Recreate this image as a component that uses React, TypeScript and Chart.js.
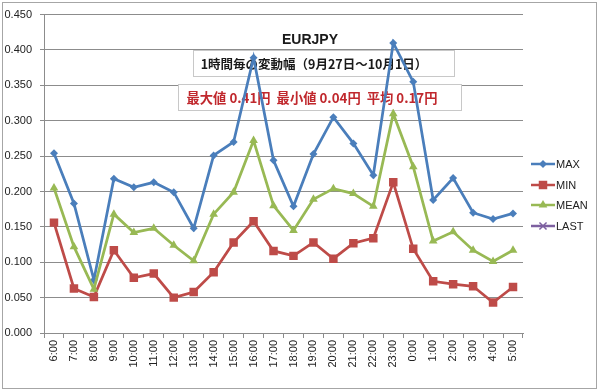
import React, { useEffect, useRef } from "react";
import { Chart, registerables } from "chart.js";

Chart.register(...registerables);

const categories = ["6:00","7:00","8:00","9:00","10:00","11:00","12:00","13:00","14:00","15:00","16:00","17:00","18:00","19:00","20:00","21:00","22:00","23:00","0:00","1:00","2:00","3:00","4:00","5:00"];
const maxValues = [0.254,0.183,0.075,0.218,0.206,0.213,0.199,0.148,0.251,0.270,0.389,0.244,0.179,0.253,0.305,0.268,0.223,0.410,0.355,0.188,0.219,0.170,0.161,0.169];
const minValues = [0.156,0.063,0.051,0.117,0.078,0.084,0.050,0.058,0.086,0.128,0.158,0.116,0.109,0.128,0.105,0.127,0.134,0.213,0.119,0.073,0.069,0.066,0.043,0.065];
const meanValues = [0.205,0.122,0.062,0.168,0.142,0.148,0.124,0.102,0.168,0.199,0.272,0.180,0.145,0.189,0.204,0.197,0.179,0.310,0.235,0.130,0.143,0.117,0.101,0.117];
const lastValues: (number | null)[] = [];
const seriesNames = ["MAX", "MIN", "MEAN", "LAST"];
const titleText = "EURJPY";
const subtitleText = "1時間毎の変動幅（9月27日～10月1日）";
const statsText = "最大値 0.41円  最小値 0.04円  平均 0.17円";

const colors = ["#4A7EBB", "#BE4B48", "#98B954", "#7D60A0"];
const pointStyles = ["rectRot", "rect", "triangle", "crossRot"];
const pointRadii = [4, 6, 5, 5];

function drawMarker(ctx: CanvasRenderingContext2D, style: string, x: number, y: number, r: number, color: string) {
  ctx.save();
  ctx.fillStyle = color;
  ctx.strokeStyle = color;
  ctx.lineWidth = 1.5;
  ctx.beginPath();
  if (style === "rectRot") {
    ctx.moveTo(x, y - r); ctx.lineTo(x + r, y); ctx.lineTo(x, y + r); ctx.lineTo(x - r, y); ctx.closePath();
    ctx.fill();
  } else if (style === "rect") {
    const s = r * Math.SQRT1_2;
    ctx.rect(x - s, y - s, 2 * s, 2 * s);
    ctx.fill();
  } else if (style === "triangle") {
    ctx.moveTo(x, y - r); ctx.lineTo(x + r * 0.87, y + r * 0.5); ctx.lineTo(x - r * 0.87, y + r * 0.5); ctx.closePath();
    ctx.fill();
  } else {
    const s = r * Math.SQRT1_2;
    ctx.moveTo(x - s, y - s); ctx.lineTo(x + s, y + s);
    ctx.moveTo(x + s, y - s); ctx.lineTo(x - s, y + s);
    ctx.stroke();
  }
  ctx.restore();
}

const decorPlugin = {
  id: "decor",
  beforeDraw(chart: any) {
    const ctx = chart.ctx as CanvasRenderingContext2D;
    ctx.save();
    ctx.fillStyle = "#ffffff";
    ctx.fillRect(0, 0, chart.width, chart.height);
    ctx.strokeStyle = "#A6A6A6";
    ctx.lineWidth = 1;
    ctx.strokeRect(2.5, 2.5, 594, 386);
    ctx.restore();
  },
  beforeDatasetsDraw(chart: any) {
    const ctx = chart.ctx as CanvasRenderingContext2D;
    ctx.save();
    ctx.fillStyle = "#1a1a1a";
    ctx.font = "bold 14px 'Liberation Sans', Arial, sans-serif";
    ctx.textAlign = "center";
    ctx.textBaseline = "middle";
    ctx.fillText(titleText, 310, 40);
    ctx.fillStyle = "#ffffff";
    ctx.fillRect(193, 50, 261, 26);
    ctx.strokeStyle = "#C8C8C8";
    ctx.lineWidth = 1;
    ctx.strokeRect(193.5, 50.5, 261, 26);
    ctx.fillStyle = "#1a1a1a";
    ctx.font = "bold 12.5px 'Noto Sans CJK JP', sans-serif";
    ctx.fillText(subtitleText, 314, 64);
    ctx.fillStyle = "#ffffff";
    ctx.fillRect(178, 84, 283, 26);
    ctx.strokeRect(178.5, 84.5, 283, 26);
    ctx.fillStyle = "#C0282D";
    ctx.font = "bold 13.3px 'Noto Sans CJK JP', sans-serif";
    ctx.fillText(statsText, 312, 98);
    ctx.restore();
  },
  afterDraw(chart: any) {
    const ctx = chart.ctx as CanvasRenderingContext2D;
    ctx.save();
    const ys = [164, 185, 205, 226];
    chart.data.datasets.forEach((ds: any, i: number) => {
      const y = ys[i];
      ctx.strokeStyle = ds.borderColor;
      ctx.lineWidth = 2.5;
      ctx.beginPath();
      ctx.moveTo(531, y);
      ctx.lineTo(555, y);
      ctx.stroke();
      drawMarker(ctx, pointStyles[i], 543, y, pointRadii[i], ds.borderColor);
      ctx.fillStyle = "#222";
      ctx.font = "11px 'Liberation Sans', Arial, sans-serif";
      ctx.textAlign = "left";
      ctx.textBaseline = "middle";
      ctx.fillText(ds.label, 556, y + 0.5);
    });
    ctx.restore();
  },
};

export default function App() {
  const ref = useRef<HTMLCanvasElement | null>(null);
  useEffect(() => {
    if (!ref.current) return;
    const allSeries = [maxValues, minValues, meanValues, lastValues];
    const chart = new Chart(ref.current, {
      type: "line",
      data: {
        labels: categories,
        datasets: allSeries.map((d, i) => ({
          label: seriesNames[i],
          data: d,
          borderColor: colors[i],
          backgroundColor: colors[i],
          pointBackgroundColor: colors[i],
          pointBorderColor: colors[i],
          borderWidth: 2.75,
          pointStyle: pointStyles[i] as any,
          pointRadius: pointRadii[i],
          pointBorderWidth: i === 3 ? 1.5 : 0,
          tension: 0,
          fill: false,
          order: 3 - i,
        })),
      },
      options: {
        responsive: false,
        animation: false,
        devicePixelRatio: 1,
        layout: { padding: { top: 14, right: 77, bottom: 0, left: 0 } },
        plugins: {
          legend: { display: false },
          title: { display: false },
          tooltip: { enabled: false },
        },
        scales: {
          x: {
            type: "category",
            offset: true,
            grid: { offset: true, drawOnChartArea: false, drawTicks: true, tickLength: 5, color: "#8C8C8C" },
            border: { display: true, color: "#8C8C8C" },
            ticks: {
              autoSkip: false,
              minRotation: 90,
              maxRotation: 90,
              padding: 2,
              color: "#222",
              font: { family: "'Liberation Sans', Arial, sans-serif", size: 11 },
            },
            afterFit(scale: any) { scale.height = 58; },
          },
          y: {
            min: 0,
            max: 0.45,
            ticks: {
              stepSize: 0.05,
              padding: 8,
              color: "#222",
              font: { family: "'Liberation Sans', Arial, sans-serif", size: 11 },
              callback: (v: any) => Number(v).toFixed(3),
            },
            grid: { color: "#8C8C8C", tickLength: 4 },
            border: { display: true, color: "#8C8C8C" },
            afterFit(scale: any) { scale.width = 44; },
          },
        },
      },
      plugins: [decorPlugin],
    });
    return () => chart.destroy();
  }, []);
  return (
    <div style={{ position: "absolute", left: 0, top: 0, width: 600, height: 391 }}>
      <canvas ref={ref} width={600} height={391} style={{ width: 600, height: 391, display: "block" }} />
    </div>
  );
}
